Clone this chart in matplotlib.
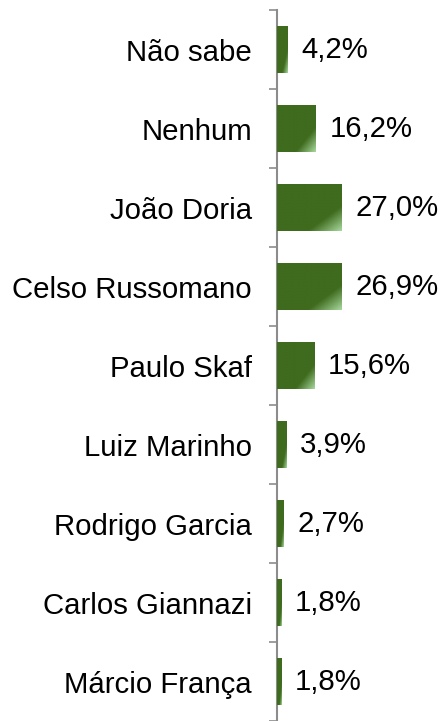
import numpy as np
import matplotlib
matplotlib.use("Agg")
import matplotlib.pyplot as plt
from matplotlib.colors import LinearSegmentedColormap

plt.rcParams['font.family'] = ['Liberation Sans', 'DejaVu Sans']

candidatos = ["Não sabe", "Nenhum", "João Doria", "Celso Russomano", "Paulo Skaf",
              "Luiz Marinho", "Rodrigo Garcia", "Carlos Giannazi", "Márcio França"]
valores = [4.2, 16.2, 27.0, 26.9, 15.6, 3.9, 2.7, 1.8, 1.8]
rotulos = ["4,2%", "16,2%", "27,0%", "26,9%", "15,6%", "3,9%", "2,7%", "1,8%", "1,8%"]

fig = plt.figure(figsize=(4.44, 7.21), dpi=100)
ax = fig.add_axes([0.624, 0.0, 0.376, 0.986])

ypos = np.arange(len(candidatos))
bars = ax.barh(ypos, valores, height=0.6, color="#3f6b1e", zorder=2)

# gradiente: verde escuro com canto inferior direito claro
cmap = LinearSegmentedColormap.from_list("g", [(0, "#3f6b1e"), (0.74, "#3f6b1e"), (1, "#a6d79c")])
gx, gy = np.meshgrid(np.linspace(0, 1, 80), np.linspace(0, 1, 80))
grad = (gx + gy) / 2.0
for b in bars:
    x0, y0 = b.get_x(), b.get_y()
    w, h = b.get_width(), b.get_height()
    im = ax.imshow(grad, extent=(x0, x0 + w, y0 + h, y0), cmap=cmap, vmin=0, vmax=1,
                   aspect="auto", zorder=3, interpolation="bilinear", origin="upper")
    im.set_clip_path(b)

for y, v, t in zip(ypos, valores, rotulos):
    ax.annotate(t, (v, y), xytext=(10, 0), textcoords="offset points",
                va="center", ha="left", fontsize=21.2)

ax.set_xlim(0, 70)
ax.set_ylim(len(candidatos) - 0.5, -0.5)
ax.set_yticks(ypos)
ax.set_yticklabels(candidatos, fontsize=21.2)
ax.tick_params(axis="y", which="major", length=0, pad=18)
ax.set_yticks(np.arange(-0.5, len(candidatos), 1), minor=True)
ax.tick_params(axis="y", which="minor", length=6, width=1.2, color="#8c8c8c")
ax.set_xticks([])
for s in ["top", "right", "bottom"]:
    ax.spines[s].set_visible(False)
ax.spines["left"].set_color("#8c8c8c")
ax.spines["left"].set_linewidth(1.5)

fig.savefig("out.png", dpi=100)
